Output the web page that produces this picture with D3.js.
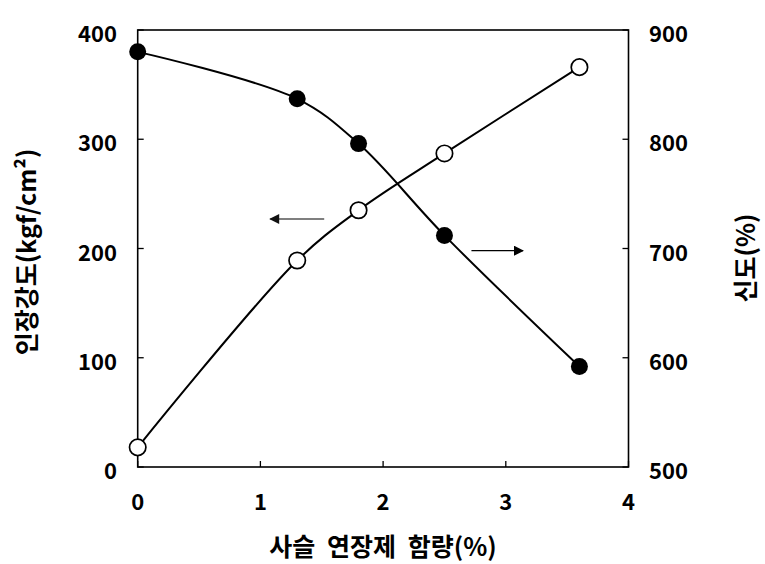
<!DOCTYPE html>
<html><head><meta charset="utf-8">
<script src="https://cdn.jsdelivr.net/npm/d3@7/dist/d3.min.js"></script>
<style>body{margin:0;background:#fff}svg{display:block}text{font-family:"Noto Sans CJK KR","Noto Sans",sans-serif;font-weight:700;fill:#000}</style>
</head><body>
<svg id="c" width="765" height="564"></svg>
<script>
const content = [0, 1.3, 1.8, 2.5, 3.6];
const tensile = [380, 337, 296, 212, 92];
const elongation = [518, 689, 735, 787, 866];
const xTicks = [0, 1, 2, 3, 4];
const yLeftTicks = [0, 100, 200, 300, 400];
const yRightTicks = [500, 600, 700, 800, 900];
const xTitle = "사슬 연장제 함량(%)";
const yLeftTitle = "인장강도(kgf/cm²)";
const yRightTitle = "신도(%)";

const svg = d3.select("#c");
const L = 137.7, R = 628.5, T = 30, B = 467;
const x = d3.scaleLinear().domain([0, 4]).range([L, R]);
const yl = d3.scaleLinear().domain([0, 400]).range([B, T]);
const yr = d3.scaleLinear().domain([500, 900]).range([B, T]);

svg.append("rect").attr("x", L).attr("y", T).attr("width", R - L).attr("height", B - T)
  .attr("fill", "none").attr("stroke", "#000").attr("stroke-width", 1.6);

const tl = 6;
const fs = 22;
xTicks.forEach(v => {
  svg.append("line").attr("x1", x(v)).attr("x2", x(v)).attr("y1", B).attr("y2", B - tl).attr("stroke", "#000").attr("stroke-width", 1.3);
  svg.append("text").attr("x", x(v)).attr("y", 500).attr("text-anchor", "middle").attr("dominant-baseline", "central").attr("font-size", fs).text(v);
});
yLeftTicks.forEach(v => {
  svg.append("line").attr("x1", L).attr("x2", L + tl).attr("y1", yl(v)).attr("y2", yl(v)).attr("stroke", "#000").attr("stroke-width", 1.3);
  svg.append("text").attr("x", 117).attr("y", yl(v) + 2).attr("text-anchor", "end").attr("dominant-baseline", "central").attr("font-size", fs).text(v);
});
yRightTicks.forEach(v => {
  svg.append("line").attr("x1", R).attr("x2", R - tl).attr("y1", yr(v)).attr("y2", yr(v)).attr("stroke", "#000").attr("stroke-width", 1.3);
  svg.append("text").attr("x", 649).attr("y", yr(v) + 2).attr("text-anchor", "start").attr("dominant-baseline", "central").attr("font-size", fs).text(v);
});

svg.append("text").attr("x", 383).attr("y", 545).attr("text-anchor", "middle").attr("dominant-baseline", "central")
  .attr("font-size", 25).attr("word-spacing", 6).text(xTitle);
svg.append("text").attr("transform", `translate(25,252) rotate(-90)`).attr("text-anchor", "middle").attr("dominant-baseline", "central").attr("font-size", 25).text(yLeftTitle);
svg.append("text").attr("transform", `translate(744,258) rotate(-90)`).attr("text-anchor", "middle").attr("dominant-baseline", "central").attr("font-size", 25).text(yRightTitle);

const curve = d3.curveCatmullRom.alpha(0.5);
const lt = d3.line().x((d, i) => x(content[i])).y(d => yl(d)).curve(curve);
const le = d3.line().x((d, i) => x(content[i])).y(d => yr(d)).curve(curve);
svg.append("path").attr("d", lt(tensile)).attr("fill", "none").attr("stroke", "#000").attr("stroke-width", 2);
svg.append("path").attr("d", le(elongation)).attr("fill", "none").attr("stroke", "#000").attr("stroke-width", 2);

svg.selectAll(".t").data(tensile).enter().append("circle")
  .attr("cx", (d, i) => x(content[i])).attr("cy", d => yl(d)).attr("r", 8.5).attr("fill", "#000");
svg.selectAll(".e").data(elongation).enter().append("circle")
  .attr("cx", (d, i) => x(content[i])).attr("cy", d => yr(d)).attr("r", 8.2).attr("fill", "#fff").attr("stroke", "#000").attr("stroke-width", 1.7);

const defs = svg.append("defs");
function marker(id, col) {
  defs.append("marker").attr("id", id).attr("viewBox", "0 0 10 10").attr("refX", 9).attr("refY", 5)
    .attr("markerWidth", 14).attr("markerHeight", 10).attr("markerUnits", "userSpaceOnUse").attr("orient", "auto")
    .append("path").attr("d", "M0,0L10,5L0,10Z").attr("fill", col);
}
marker("ag", "#111");
marker("ab", "#000");
svg.append("line").attr("x1", x(1.52)).attr("x2", x(1.08)).attr("y1", yl(227)).attr("y2", yl(227))
  .attr("stroke", "#555").attr("stroke-width", 1.6).attr("marker-end", "url(#ag)");
svg.append("line").attr("x1", x(2.72)).attr("x2", x(3.14)).attr("y1", yr(698)).attr("y2", yr(698))
  .attr("stroke", "#000").attr("stroke-width", 1.3).attr("marker-end", "url(#ab)");
</script>
</body></html>
